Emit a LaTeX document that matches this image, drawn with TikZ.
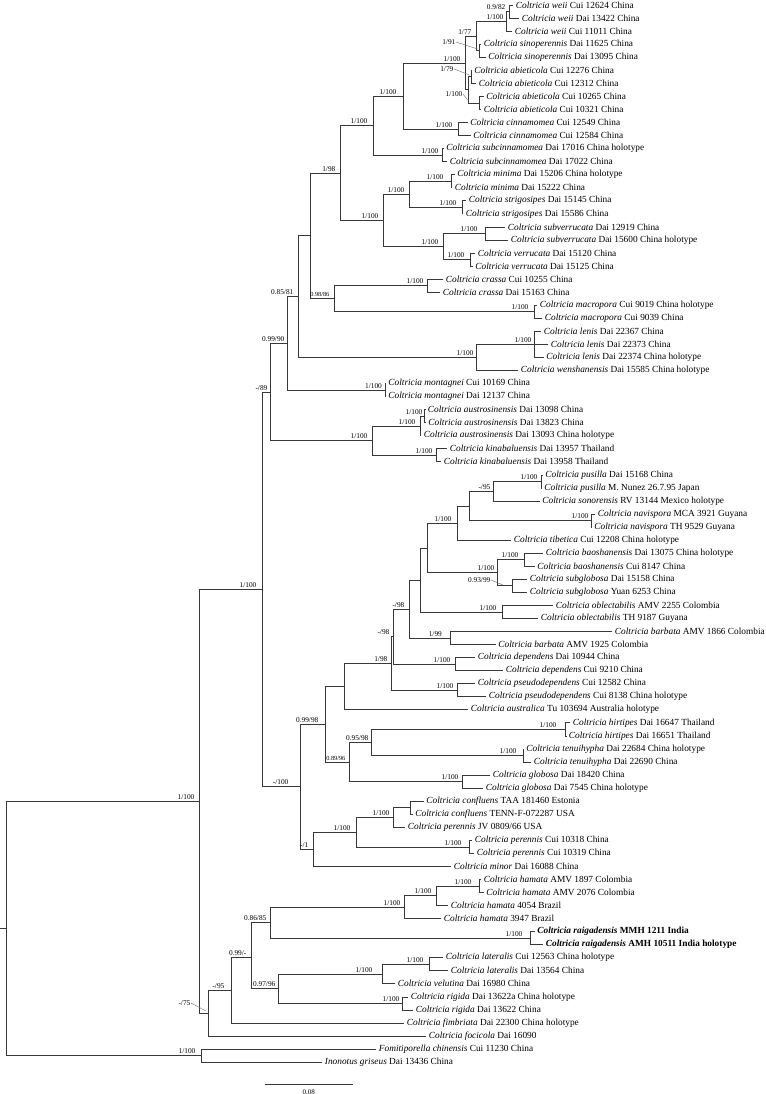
\documentclass[tikz,border=0pt]{standalone}
\usepackage{fontspec}
\setmainfont{Liberation Serif}
\newcommand{\tx}[2]{\textit{#1} #2}
\newcommand{\yy}[1]{5+(#1-1)*13.05}
\tikzset{
  x=0.75pt, y=-0.75pt,
  br/.style={draw=black!78, line width=0.45pt},
  ld/.style={draw=black!60, line width=0.3pt},
  leaf/.style={anchor=west, inner xsep=2pt, inner ysep=0pt, font=\fontsize{7.0}{8}\selectfont},
  lab/.style={anchor=south east, inner sep=0.3pt, font=\fontsize{5.5}{6}\selectfont},
  labs/.style={lab, font=\fontsize{4.7}{5}\selectfont},
}
\begin{document}
\begin{tikzpicture}
\useasboundingbox (0,0) rectangle (765,1094);
\fill[white] (0,0) rectangle (765,1094);
% leaves
\node[leaf] (l1) at (513,{\yy{1}}) {\tx{Coltricia weii}{Cui 12624 China}};
\node[leaf] (l2) at (519,{\yy{2}}) {\tx{Coltricia weii}{Dai 13422 China}};
\node[leaf] (l3) at (512,{\yy{3}}) {\tx{Coltricia weii}{Cui 11011 China}};
\node[leaf] (l4) at (481,{\yy{4}}) {\tx{Coltricia sinoperennis}{Dai 11625 China}};
\node[leaf] (l5) at (485.5,{\yy{5}}) {\tx{Coltricia sinoperennis}{Dai 13095 China}};
\node[leaf] (l6) at (471.5,{\yy{6}}) {\tx{Coltricia abieticola}{Cui 12276 China}};
\node[leaf] (l7) at (476,{\yy{7}}) {\tx{Coltricia abieticola}{Cui 12312 China}};
\node[leaf] (l8) at (483.5,{\yy{8}}) {\tx{Coltricia abieticola}{Cui 10265 China}};
\node[leaf] (l9) at (481,{\yy{9}}) {\tx{Coltricia abieticola}{Cui 10321 China}};
\node[leaf] (l10) at (467.5,{\yy{10}}) {\tx{Coltricia cinnamomea}{Cui 12549 China}};
\node[leaf] (l11) at (470.5,{\yy{11}}) {\tx{Coltricia cinnamomea}{Cui 12584 China}};
\node[leaf] (l12) at (443.5,{\yy{12}}) {\tx{Coltricia subcinnamomea}{Dai 17016 China holotype}};
\node[leaf] (l13) at (447,{\yy{13}}) {\tx{Coltricia subcinnamomea}{Dai 17022 China}};
\node[leaf] (l14) at (454.5,{\yy{14}}) {\tx{Coltricia minima}{Dai 15206 China holotype}};
\node[leaf] (l15) at (452,{\yy{15}}) {\tx{Coltricia minima}{Dai 15222 China}};
\node[leaf] (l16) at (466,{\yy{16}}) {\tx{Coltricia strigosipes}{Dai 15145 China}};
\node[leaf] (l17) at (463,{\yy{17}}) {\tx{Coltricia strigosipes}{Dai 15586 China}};
\node[leaf] (l18) at (505,{\yy{18}}) {\tx{Coltricia subverrucata}{Dai 12919 China}};
\node[leaf] (l19) at (508,{\yy{19}}) {\tx{Coltricia subverrucata}{Dai 15600 China holotype}};
\node[leaf] (l20) at (475,{\yy{20}}) {\tx{Coltricia verrucata}{Dai 15120 China}};
\node[leaf] (l21) at (472.5,{\yy{21}}) {\tx{Coltricia verrucata}{Dai 15125 China}};
\node[leaf] (l22) at (443,{\yy{22}}) {\tx{Coltricia crassa}{Cui 10255 China}};
\node[leaf] (l23) at (440,{\yy{23}}) {\tx{Coltricia crassa}{Dai 15163 China}};
\node[leaf] (l24) at (537,{\yy{24}}) {\tx{Coltricia macropora}{Cui 9019 China holotype}};
\node[leaf] (l25) at (542,{\yy{25}}) {\tx{Coltricia macropora}{Cui 9039 China}};
\node[leaf] (l26) at (541,{\yy{26}}) {\tx{Coltricia lenis}{Dai 22367 China}};
\node[leaf] (l27) at (548,{\yy{27}}) {\tx{Coltricia lenis}{Dai 22373 China}};
\node[leaf] (l28) at (543.5,{\yy{28}}) {\tx{Coltricia lenis}{Dai 22374 China holotype}};
\node[leaf] (l29) at (518,{\yy{29}}) {\tx{Coltricia wenshanensis}{Dai 15585 China holotype}};
\node[leaf] (l30) at (385.5,{\yy{30}}) {\tx{Coltricia montagnei}{Cui 10169 China}};
\node[leaf] (l31) at (385.5,{\yy{31}}) {\tx{Coltricia montagnei}{Dai 12137 China}};
\node[leaf] (l32) at (425,{\yy{32}}) {\tx{Coltricia austrosinensis}{Dai 13098 China}};
\node[leaf] (l33) at (425.5,{\yy{33}}) {\tx{Coltricia austrosinensis}{Dai 13823 China}};
\node[leaf] (l34) at (421,{\yy{34}}) {\tx{Coltricia austrosinensis}{Dai 13093 China holotype}};
\node[leaf] (l35) at (447,{\yy{35}}) {\tx{Coltricia kinabaluensis}{Dai 13957 Thailand}};
\node[leaf] (l36) at (441,{\yy{36}}) {\tx{Coltricia kinabaluensis}{Dai 13958 Thailand}};
\node[leaf] (l37) at (542.5,{\yy{37}}) {\tx{Coltricia pusilla}{Dai 15168 China}};
\node[leaf] (l38) at (541.5,{\yy{38}}) {\tx{Coltricia pusilla}{M. Nunez 26.7.95 Japan}};
\node[leaf] (l39) at (539.5,{\yy{39}}) {\tx{Coltricia sonorensis}{RV 13144 Mexico holotype}};
\node[leaf] (l40) at (595,{\yy{40}}) {\tx{Coltricia navispora}{MCA 3921 Guyana}};
\node[leaf] (l41) at (591.5,{\yy{41}}) {\tx{Coltricia navispora}{TH 9529 Guyana}};
\node[leaf] (l42) at (511,{\yy{42}}) {\tx{Coltricia tibetica}{Cui 12208 China holotype}};
\node[leaf] (l43) at (543,{\yy{43}}) {\tx{Coltricia baoshanensis}{Dai 13075 China holotype}};
\node[leaf] (l44) at (534.5,{\yy{44}}) {\tx{Coltricia baoshanensis}{Cui 8147 China}};
\node[leaf] (l45) at (527,{\yy{45}}) {\tx{Coltricia subglobosa}{Dai 15158 China}};
\node[leaf] (l46) at (527,{\yy{46}}) {\tx{Coltricia subglobosa}{Yuan 6253 China}};
\node[leaf] (l47) at (553,{\yy{47}}) {\tx{Coltricia oblectabilis}{AMV 2255 Colombia}};
\node[leaf] (l48) at (538,{\yy{48}}) {\tx{Coltricia oblectabilis}{TH 9187 Guyana}};
\node[leaf] (l49) at (612,{\yy{49}}) {\tx{Coltricia barbata}{AMV 1866 Colombia}};
\node[leaf] (l50) at (495.5,{\yy{50}}) {\tx{Coltricia barbata}{AMV 1925 Colombia}};
\node[leaf] (l51) at (475,{\yy{51}}) {\tx{Coltricia dependens}{Dai 10944 China}};
\node[leaf] (l52) at (503,{\yy{52}}) {\tx{Coltricia dependens}{Cui 9210 China}};
\node[leaf] (l53) at (475,{\yy{53}}) {\tx{Coltricia pseudodependens}{Cui 12582 China}};
\node[leaf] (l54) at (486,{\yy{54}}) {\tx{Coltricia pseudodependens}{Cui 8138 China holotype}};
\node[leaf] (l55) at (468,{\yy{55}}) {\tx{Coltricia australica}{Tu 103694 Australia holotype}};
\node[leaf] (l56) at (570,{\yy{56}}) {\tx{Coltricia hirtipes}{Dai 16647 Thailand}};
\node[leaf] (l57) at (566,{\yy{57}}) {\tx{Coltricia hirtipes}{Dai 16651 Thailand}};
\node[leaf] (l58) at (523.5,{\yy{58}}) {\tx{Coltricia tenuihypha}{Dai 22684 China holotype}};
\node[leaf] (l59) at (531,{\yy{59}}) {\tx{Coltricia tenuihypha}{Dai 22690 China}};
\node[leaf] (l60) at (490,{\yy{60}}) {\tx{Coltricia globosa}{Dai 18420 China}};
\node[leaf] (l61) at (483,{\yy{61}}) {\tx{Coltricia globosa}{Dai 7545 China holotype}};
\node[leaf] (l62) at (423.5,{\yy{62}}) {\tx{Coltricia confluens}{TAA 181460 Estonia}};
\node[leaf] (l63) at (412.5,{\yy{63}}) {\tx{Coltricia confluens}{TENN-F-072287 USA}};
\node[leaf] (l64) at (405,{\yy{64}}) {\tx{Coltricia perennis}{JV 0809/66 USA}};
\node[leaf] (l65) at (472,{\yy{65}}) {\tx{Coltricia perennis}{Cui 10318 China}};
\node[leaf] (l66) at (474,{\yy{66}}) {\tx{Coltricia perennis}{Cui 10319 China}};
\node[leaf] (l67) at (451,{\yy{67}}) {\tx{Coltricia minor}{Dai 16088 China}};
\node[leaf] (l68) at (481,{\yy{68}}) {\tx{Coltricia hamata}{AMV 1897 Colombia}};
\node[leaf] (l69) at (483.5,{\yy{69}}) {\tx{Coltricia hamata}{AMV 2076 Colombia}};
\node[leaf] (l70) at (448,{\yy{70}}) {\tx{Coltricia hamata}{4054 Brazil}};
\node[leaf] (l71) at (441,{\yy{71}}) {\tx{Coltricia hamata}{3947 Brazil}};
\node[leaf] (l72) at (534.5,{\yy{72}}) {\bfseries\tx{Coltricia raigadensis}{MMH 1211 India}};
\node[leaf] (l73) at (543,{\yy{73}}) {\bfseries\tx{Coltricia raigadensis}{AMH 10511 India holotype}};
\node[leaf] (l74) at (443,{\yy{74}}) {\tx{Coltricia lateralis}{Cui 12563 China holotype}};
\node[leaf] (l75) at (448,{\yy{75}}) {\tx{Coltricia lateralis}{Dai 13564 China}};
\node[leaf] (l76) at (395,{\yy{76}}) {\tx{Coltricia velutina}{Dai 16980 China}};
\node[leaf] (l77) at (408,{\yy{77}}) {\tx{Coltricia rigida}{Dai 13622a China holotype}};
\node[leaf] (l78) at (413,{\yy{78}}) {\tx{Coltricia rigida}{Dai 13622 China}};
\node[leaf] (l79) at (404,{\yy{79}}) {\tx{Coltricia fimbriata}{Dai 22300 China holotype}};
\node[leaf] (l80) at (426,{\yy{80}}) {\tx{Coltricia focicola}{Dai 16090}};
\node[leaf] (l81) at (376,{\yy{81}}) {\tx{Fomitiporella chinensis}{Cui 11230 China}};
\node[leaf] (l82) at (322,{\yy{82}}) {\tx{Inonotus griseus}{Dai 13436 China}};
% internal nodes
\coordinate (W1) at (509,11.5);
\coordinate (W) at (506.5,21.3);
\coordinate (S) at (479,50.7);
\coordinate (WS) at (476,36);
\coordinate (A1) at (471,76.8);
\coordinate (A2) at (479,102.9);
\coordinate (A) at (468,89.8);
\coordinate (P1) at (465,62.9);
\coordinate (C) at (458,129);
\coordinate (P2) at (403,96);
\coordinate (SC) at (442.5,155.1);
\coordinate (P3) at (373,125.5);
\coordinate (M) at (451,181.2);
\coordinate (St) at (462,207.3);
\coordinate (MS) at (409,194.2);
\coordinate (Sv) at (485.6,233.4);
\coordinate (V) at (470.6,259.5);
\coordinate (SV) at (443.6,246.4);
\coordinate (MSV) at (383.6,220.3);
\coordinate (P4) at (340.5,172.9);
\coordinate (Cr) at (427,285.6);
\coordinate (Ma) at (534,311.7);
\coordinate (CM) at (334,298.6);
\coordinate (P5) at (310,235.8);
\coordinate (Le) at (534,344.3);
\coordinate (LW) at (476,357.4);
\coordinate (P6) at (298,296.6);
\coordinate (Mo) at (385,390);
\coordinate (P7) at (287.6,343.3);
\coordinate (Au1) at (424.5,416.1);
\coordinate (Au) at (420,425.9);
\coordinate (Ki) at (436,455.2);
\coordinate (AK) at (372,440.6);
\coordinate (P8) at (270,392);
\coordinate (Pu) at (541,481.3);
\coordinate (N12) at (493,491.1);
\coordinate (Na) at (591,520.5);
\coordinate (N11) at (469,505.8);
\coordinate (N8) at (457,522.9);
\coordinate (Ba) at (524,559.6);
\coordinate (Sg) at (512,585.7);
\coordinate (N9) at (497,572.6);
\coordinate (N8p) at (427.5,547.8);
\coordinate (Ob) at (502,611.8);
\coordinate (N7) at (420,579.8);
\coordinate (Bb) at (450,638);
\coordinate (N6) at (409.5,609);
\coordinate (De) at (455.6,664);
\coordinate (N5) at (393.5,636.5);
\coordinate (Ps) at (457,690.1);
\coordinate (N4) at (391.5,663.3);
\coordinate (N3) at (344,686.5);
\coordinate (Hi) at (565.5,729.3);
\coordinate (Te) at (523,755.4);
\coordinate (N14) at (371,742.4);
\coordinate (Gl) at (462,781.5);
\coordinate (N13) at (349,762);
\coordinate (N2) at (325.5,724.2);
\coordinate (Cf) at (410.6,807.6);
\coordinate (CC) at (393,817.4);
\coordinate (PerC) at (469,846.8);
\coordinate (CP) at (356,832);
\coordinate (N1) at (313,849);
\coordinate (Q) at (300,786.6);
\coordinate (P9) at (262,589.3);
\coordinate (Hm1) at (479,885.9);
\coordinate (Hm2) at (436,895.7);
\coordinate (Hm3) at (404,907.1);
\coordinate (Ra) at (530.6,938);
\coordinate (HR) at (270,922.6);
\coordinate (La) at (429,964.2);
\coordinate (LV) at (382.5,974);
\coordinate (Ri) at (402,1003.4);
\coordinate (LVR) at (278,988.7);
\coordinate (H2) at (251,957);
\coordinate (H3) at (231,990);
\coordinate (H4) at (208,1013);
\coordinate (R) at (199.5,801.2);
\coordinate (Out) at (201,1055.5);
\coordinate (R0) at (6.4,928);
\coordinate (stub) at (0,928);
% branches
\draw[br] (W1) |- (l1.west) (W1) |- (l2.west);
\draw[br] (W) |- (W1) (W) |- (l3.west);
\draw[br] (S) |- (l4.west) (S) |- (l5.west);
\draw[br] (WS) |- (W) (WS) |- (S);
\draw[br] (A1) |- (l6.west) (A1) |- (l7.west);
\draw[br] (A2) |- (l8.west) (A2) |- (l9.west);
\draw[br] (A) |- (A1) (A) |- (A2);
\draw[br] (P1) |- (WS) (P1) |- (A);
\draw[br] (C) |- (l10.west) (C) |- (l11.west);
\draw[br] (P2) |- (P1) (P2) |- (C);
\draw[br] (SC) |- (l12.west) (SC) |- (l13.west);
\draw[br] (P3) |- (P2) (P3) |- (SC);
\draw[br] (M) |- (l14.west) (M) |- (l15.west);
\draw[br] (St) |- (l16.west) (St) |- (l17.west);
\draw[br] (MS) |- (M) (MS) |- (St);
\draw[br] (Sv) |- (l18.west) (Sv) |- (l19.west);
\draw[br] (V) |- (l20.west) (V) |- (l21.west);
\draw[br] (SV) |- (Sv) (SV) |- (V);
\draw[br] (MSV) |- (MS) (MSV) |- (SV);
\draw[br] (P4) |- (P3) (P4) |- (MSV);
\draw[br] (Cr) |- (l22.west) (Cr) |- (l23.west);
\draw[br] (Ma) |- (l24.west) (Ma) |- (l25.west);
\draw[br] (CM) |- (Cr) (CM) |- (Ma);
\draw[br] (P5) |- (P4) (P5) |- (CM);
\draw[br] (Le) |- (l26.west) (Le) |- (l27.west) (Le) |- (l28.west);
\draw[br] (LW) |- (Le) (LW) |- (l29.west);
\draw[br] (P6) |- (P5) (P6) |- (LW);
\draw[br] (Mo) |- (l30.west) (Mo) |- (l31.west);
\draw[br] (P7) |- (P6) (P7) |- (Mo);
\draw[br] (Au1) |- (l32.west) (Au1) |- (l33.west);
\draw[br] (Au) |- (Au1) (Au) |- (l34.west);
\draw[br] (Ki) |- (l35.west) (Ki) |- (l36.west);
\draw[br] (AK) |- (Au) (AK) |- (Ki);
\draw[br] (P8) |- (P7) (P8) |- (AK);
\draw[br] (Pu) |- (l37.west) (Pu) |- (l38.west);
\draw[br] (N12) |- (Pu) (N12) |- (l39.west);
\draw[br] (Na) |- (l40.west) (Na) |- (l41.west);
\draw[br] (N11) |- (N12) (N11) |- (Na);
\draw[br] (N8) |- (N11) (N8) |- (l42.west);
\draw[br] (Ba) |- (l43.west) (Ba) |- (l44.west);
\draw[br] (Sg) |- (l45.west) (Sg) |- (l46.west);
\draw[br] (N9) |- (Ba) (N9) |- (Sg);
\draw[br] (N8p) |- (N8) (N8p) |- (N9);
\draw[br] (Ob) |- (l47.west) (Ob) |- (l48.west);
\draw[br] (N7) |- (N8p) (N7) |- (Ob);
\draw[br] (Bb) |- (l49.west) (Bb) |- (l50.west);
\draw[br] (N6) |- (N7) (N6) |- (Bb);
\draw[br] (De) |- (l51.west) (De) |- (l52.west);
\draw[br] (N5) |- (N6) (N5) |- (De);
\draw[br] (Ps) |- (l53.west) (Ps) |- (l54.west);
\draw[br] (N4) |- (N5) (N4) |- (Ps);
\draw[br] (N3) |- (N4) (N3) |- (l55.west);
\draw[br] (Hi) |- (l56.west) (Hi) |- (l57.west);
\draw[br] (Te) |- (l58.west) (Te) |- (l59.west);
\draw[br] (N14) |- (Hi) (N14) |- (Te);
\draw[br] (Gl) |- (l60.west) (Gl) |- (l61.west);
\draw[br] (N13) |- (N14) (N13) |- (Gl);
\draw[br] (N2) |- (N3) (N2) |- (N13);
\draw[br] (Cf) |- (l62.west) (Cf) |- (l63.west);
\draw[br] (CC) |- (Cf) (CC) |- (l64.west);
\draw[br] (PerC) |- (l65.west) (PerC) |- (l66.west);
\draw[br] (CP) |- (CC) (CP) |- (PerC);
\draw[br] (N1) |- (CP) (N1) |- (l67.west);
\draw[br] (Q) |- (N2) (Q) |- (N1);
\draw[br] (P9) |- (P8) (P9) |- (Q);
\draw[br] (Hm1) |- (l68.west) (Hm1) |- (l69.west);
\draw[br] (Hm2) |- (Hm1) (Hm2) |- (l70.west);
\draw[br] (Hm3) |- (Hm2) (Hm3) |- (l71.west);
\draw[br] (Ra) |- (l72.west) (Ra) |- (l73.west);
\draw[br] (HR) |- (Hm3) (HR) |- (Ra);
\draw[br] (La) |- (l74.west) (La) |- (l75.west);
\draw[br] (LV) |- (La) (LV) |- (l76.west);
\draw[br] (Ri) |- (l77.west) (Ri) |- (l78.west);
\draw[br] (LVR) |- (LV) (LVR) |- (Ri);
\draw[br] (H2) |- (HR) (H2) |- (LVR);
\draw[br] (H3) |- (H2) (H3) |- (l79.west);
\draw[br] (H4) |- (H3) (H4) |- (l80.west);
\draw[br] (R) |- (P9) (R) |- (H4);
\draw[br] (Out) |- (l81.west) (Out) |- (l82.west);
\draw[br] (R0) |- (R) (R0) |- (Out);
\draw[br] (stub) -- (R0);
% support labels
\node[lab] at (506,10.5) {0.9/82};
\node[lab] at (504,20.3) {1/100};
\node[lab] at (472,35) {1/77};
\node[lab] at (461,61.9) {1/100};
\node[lab] at (453,128) {1/100};
\node[lab] at (397,95) {1/100};
\node[lab] at (439,154.1) {1/100};
\node[lab] at (368,124.5) {1/100};
\node[lab] at (444,180.2) {1/100};
\node[lab] at (457,206.3) {1/100};
\node[lab] at (405,193.2) {1/100};
\node[lab] at (478,232.4) {1/100};
\node[lab] at (465,258.5) {1/100};
\node[lab] at (439,245.4) {1/100};
\node[lab] at (379,219.3) {1/100};
\node[lab] at (336,171.9) {1/98};
\node[lab] at (424,284.6) {1/100};
\node[lab] at (529,310.7) {1/100};
\node[labs] at (330,297.6) {0.98/86};
\node[lab] at (532,343.3) {1/100};
\node[lab] at (474,356.4) {1/100};
\node[lab] at (294,295.6) {0.85/81};
\node[lab] at (382.5,389) {1/100};
\node[lab] at (285,342.3) {0.99/90};
\node[lab] at (423,415.1) {1/100};
\node[lab] at (416,424.9) {1/100};
\node[lab] at (433,454.2) {1/100};
\node[lab] at (368,439.6) {1/100};
\node[lab] at (268,391) {-/89};
\node[lab] at (257,588.3) {1/100};
\node[lab] at (195,800.2) {1/100};
\node[lab] at (538,480.3) {1/100};
\node[lab] at (491,490.1) {-/95};
\node[lab] at (589,519.5) {1/100};
\node[lab] at (452,521.9) {1/100};
\node[lab] at (519,558.6) {1/100};
\node[lab] at (495,571.6) {1/100};
\node[lab] at (497,610.8) {1/100};
\node[lab] at (405,608) {-/98};
\node[lab] at (390,635.5) {-/98};
\node[lab] at (388,662.3) {1/98};
\node[lab] at (442.5,637) {1/99};
\node[lab] at (451,663) {1/100};
\node[lab] at (454,689.1) {1/100};
\node[lab] at (319,723.2) {0.99/98};
\node[lab] at (557,728.3) {1/100};
\node[lab] at (517,754.4) {1/100};
\node[lab] at (369,741.4) {0.95/98};
\node[lab] at (459,780.5) {1/100};
\node[labs] at (346,761) {0.89/96};
\node[lab] at (289,785.6) {-/100};
\node[lab] at (390,816.4) {1/100};
\node[lab] at (351,831) {1/100};
\node[lab] at (462,845.8) {1/100};
\node[lab] at (309,848) {-/1};
\node[lab] at (472,884.9) {1/100};
\node[lab] at (432,894.7) {1/100};
\node[lab] at (401,906.1) {1/100};
\node[lab] at (267,921.6) {0.86/85};
\node[lab] at (523,937) {1/100};
\node[lab] at (247,956) {0.99/-};
\node[lab] at (424,963.2) {1/100};
\node[lab] at (373,973) {1/100};
\node[lab] at (276,987.7) {0.97/96};
\node[lab] at (225,989) {-/95};
\node[lab] at (400,1002.4) {1/100};
\node[lab] at (196,1054.5) {1/100};
% labels with leaders
\node[lab, anchor=east] (tS) at (456,42) {1/91};
\coordinate (Sx) at (477.5,49);
\draw[ld] (tS.east) -- (Sx);
\node[lab, anchor=east] (tA1) at (454,69) {1/79};
\coordinate (A1x) at (469.5,75);
\draw[ld] (tA1.east) -- (A1x);
\node[lab, anchor=east] (tA2) at (463,94) {1/100};
\coordinate (A2x) at (467.5,100);
\draw[ld] (tA2.east) -- (A2x);
\node[lab, anchor=east] (tSg) at (491,580) {0.93/99};
\coordinate (Sgx) at (503,585);
\draw[ld] (tSg.east) -- (Sgx);
\node[lab, anchor=east] (tH4) at (191,1003) {-/75};
\coordinate (H4x) at (206,1011);
\draw[ld] (tH4.east) -- (H4x);
% scale bar
\coordinate (sb1) at (264.6,1084);
\coordinate (sb2) at (352.8,1084);
\draw[br] (sb1) -- (sb2);
\node[font=\fontsize{5.3}{6}\selectfont, inner sep=0pt] (sbl) at (308.7,1092) {0.08};
\end{tikzpicture}
\end{document}
